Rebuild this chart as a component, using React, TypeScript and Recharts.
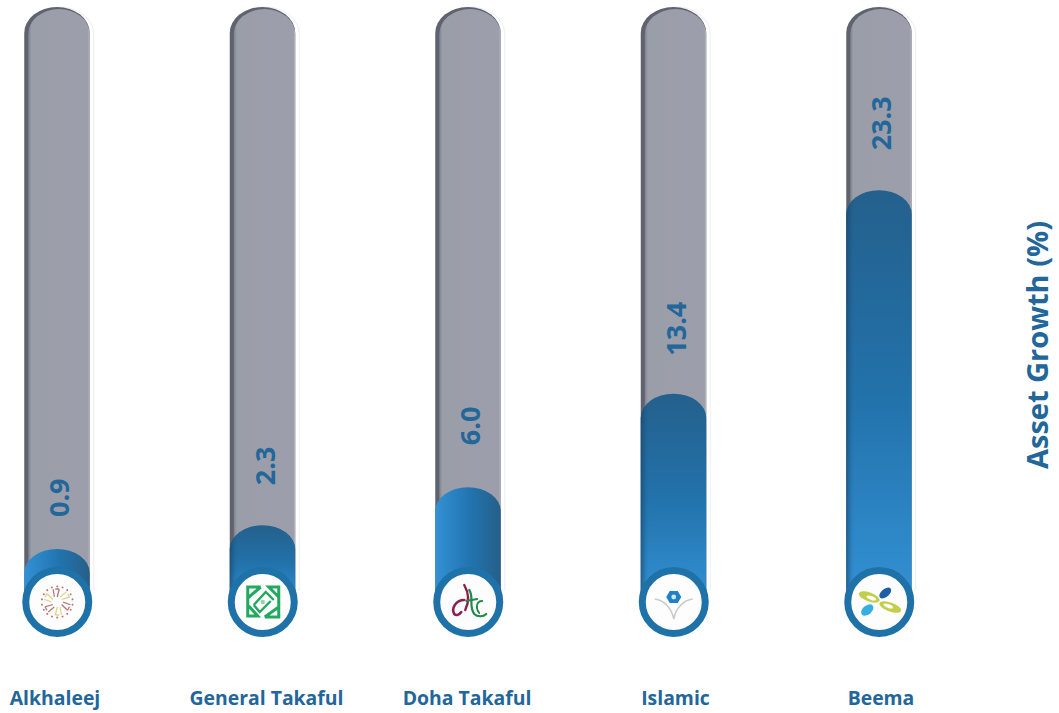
import React from 'react';
import { ComposedChart, Bar, XAxis, YAxis, LabelList } from 'recharts';

const COMPANIES = ['Alkhaleej', 'General Takaful', 'Doha Takaful', 'Islamic', 'Beema'];
const ASSET_GROWTH = [0.9, 2.3, 6.0, 13.4, 23.3];
// The picture is not to scale with its labels, so the fill level is read off separately (% of track)
const FILL_LEVELS = [8.9, 12.9, 19.3, 35, 69.2];
const TRACK_LEVELS = [100, 100, 100, 100, 100];

const chartData = COMPANIES.map((name, i) => ({
  name,
  growth: ASSET_GROWTH[i],
  fill: FILL_LEVELS[i],
  track: TRACK_LEVELS[i],
}));

const BLUE = '#22669a';
const FONT = '"Open Sans", sans-serif';
const BAR_WIDTH = 66;
const FILL_STYLES = ['sideFill', 'downFill', 'sideFill', 'downFill', 'downFill'];
const NAME_NUDGE = [-2, 4, -1, 2, 2];
const LABEL_GAP = [32, 40, 42, 38, 40];

const domePath = (x: number, y: number, w: number, h: number, ry: number) =>
  `M${x} ${y + h}V${y + ry}A${w / 2} ${ry} 0 0 1 ${x + w} ${y + ry}V${y + h}Z`;

function TrackShape({ x, y, width, height }: any) {
  return (
    <g>
      <path d={domePath(x + 1, y, width + 2.5, height - 12, 27)} fill="#fff" stroke="#eceef3" strokeWidth={1} />
      <path d={domePath(x, y, width - 0.5, height, 26)} fill="#5f636f" />
      <path d={domePath(x + 4, y + 2, width - 4.5, height - 2, 25)} fill="url(#trackFill)" />
    </g>
  );
}

function Logo({ index }: { index: number }) {
  if (index === 0) {
    const spokes = [0, 60, 120, 180, 240, 300];
    const dots = Array.from({ length: 18 }, (_, i) => i * 20);
    return (
      <g>
        {dots.map((a) => (
          <circle key={a} r={1} cy={-15.5} fill="#b5777b" transform={`rotate(${a})`} />
        ))}
        {spokes.map((a, i) => (
          <g key={a} transform={`rotate(${a})`}>
            <path d="M0 -5L2 -13M2 -13L-2 -13" stroke={i % 2 ? '#e3d28f' : '#b5777b'} strokeWidth={1.3} fill="none" />
            <path d="M3 -5L9 -10" stroke={i % 2 ? '#b5777b' : '#e3d28f'} strokeWidth={1.2} fill="none" />
          </g>
        ))}
      </g>
    );
  }
  if (index === 1) {
    return (
      <g fill="none" stroke="#22a860" strokeWidth={3}>
        <path d="M-2 -15H-15V14H-5L-14 4M-15 -4L-2 -15" />
        <path d="M2 15H16V-15H6L16 -5M16 5L2 15" />
        <path d="M-9 3L3 -10L11 -2M8 -1L-3 10L-9 3" strokeWidth={2.4} />
        <circle r={2.2} fill="#8fd4ab" stroke="none" />
      </g>
    );
  }
  if (index === 2) {
    return (
      <g fill="none" strokeLinecap="round">
        <path d="M-4 -2C-13 -2 -17 7 -14 12C-12 14 -9 13 -7 10" stroke="#8e1f4e" strokeWidth={2.6} />
        <path d="M-4 -17C0 -10 2 -2 -3 8" stroke="#8e1f4e" strokeWidth={2.4} />
        <path d="M1 -12C6 -5 0 4 6 12C9 15 15 15 18 12" stroke="#1f8a4a" strokeWidth={2.2} />
        <path d="M-2 -1L9 -3M14 -1C8 -1 7 6 11 11" stroke="#1f8a4a" strokeWidth={1.8} />
      </g>
    );
  }
  if (index === 3) {
    return (
      <g>
        <path d="M-19 -3C-10 -2 -2 6 0 17C2 6 10 -2 19 -3" fill="none" stroke="#c9cacc" strokeWidth={1.6} />
        <path d="M-4 -11H4L7.5 -5L4 1H-4L-7.5 -5Z" fill="#1f80c8" />
        <circle cy={-5} r={2.4} fill="#cfe6f5" />
      </g>
    );
  }
  return (
    <g>
      <ellipse cx={-10} cy={-5} rx={11} ry={4.5} fill="#c3cf4a" transform="rotate(20 -10 -5)" />
      <ellipse cx={11} cy={5} rx={11.5} ry={4.5} fill="#c3cf4a" transform="rotate(20 11 5)" />
      <ellipse cx={6} cy={-9} rx={7} ry={4} fill="#1d5fa6" transform="rotate(-40 6 -9)" />
      <ellipse cx={-12} cy={8} rx={7} ry={4.5} fill="#35aee0" transform="rotate(-40 -12 8)" />
      <ellipse cx={-8} cy={-4} rx={5} ry={1.8} fill="#fff" transform="rotate(20 -8 -4)" />
      <ellipse cx={9} cy={4} rx={5} ry={1.8} fill="#fff" transform="rotate(20 9 4)" />
    </g>
  );
}

function FillShape({ x, y, width, height, index }: any) {
  const style = FILL_STYLES[index];
  const cx = x + width / 2;
  const bottom = y + height;
  return (
    <g>
      <path d={domePath(x, y, width - 0.5, height, 24)} fill={`url(#${style})`} />
      {style === 'downFill' && <path d={domePath(x, y, width - 0.5, height, 24)} fill="url(#leftEdge)" />}
      <circle cx={cx} cy={bottom} r={31.5} fill="#fdfdfd" stroke="#1f72a8" strokeWidth={7} />
      <g transform={`translate(${cx} ${bottom})`}>
        <Logo index={index} />
      </g>
    </g>
  );
}

function GrowthLabel({ x, y, width, value, index }: any) {
  const cx = x + width / 2 + 12;
  const cy = y - LABEL_GAP[index];
  return (
    <text
      x={cx}
      y={cy}
      transform={`rotate(-90 ${cx} ${cy})`}
      fontFamily={FONT}
      fontWeight={700}
      fontSize={27}
      fill={BLUE}
    >
      {Number(value).toFixed(1)}
    </text>
  );
}

function NameTick({ x, y, index, payload }: any) {
  return (
    <text
      x={x + NAME_NUDGE[index]}
      y={y + 95}
      textAnchor="middle"
      fontFamily={FONT}
      fontWeight={700}
      fontSize={19.4}
      fill={BLUE}
    >
      {payload.value}
    </text>
  );
}

function AxisTitle() {
  return (
    <text
      x={1048}
      y={345}
      transform="rotate(-90 1048 345)"
      textAnchor="middle"
      fontFamily={FONT}
      fontWeight={700}
      fontSize={29}
      fill={BLUE}
    >
      Asset Growth (%)
    </text>
  );
}

export default function App() {
  return (
    <div style={{ position: 'absolute', left: 0, top: 0, width: 1059, height: 713, background: '#fff' }}>
      <ComposedChart
        width={1059}
        height={713}
        data={chartData}
        margin={{ top: 7, right: 0, bottom: 0, left: 57 }}
        barSize={BAR_WIDTH}
        barGap={-BAR_WIDTH}
      >
        <defs>
          <linearGradient id="trackFill" x1="0" y1="0" x2="1" y2="0">
            <stop offset="0" stopColor="#7d818c" />
            <stop offset="0.05" stopColor="#9a9ea9" />
            <stop offset="0.97" stopColor="#9c9fab" />
            <stop offset="1" stopColor="#b9bbc4" />
          </linearGradient>
          <linearGradient id="sideFill" x1="0" y1="0" x2="1" y2="0">
            <stop offset="0" stopColor="#3391d4" />
            <stop offset="0.55" stopColor="#2173ae" />
            <stop offset="1" stopColor="#265f88" />
          </linearGradient>
          <linearGradient id="downFill" x1="0" y1="0" x2="0" y2="1">
            <stop offset="0" stopColor="#24608c" />
            <stop offset="0.5" stopColor="#2272ab" />
            <stop offset="1" stopColor="#3391d4" />
          </linearGradient>
          <linearGradient id="leftEdge" x1="0" y1="0" x2="1" y2="0">
            <stop offset="0" stopColor="#123f63" stopOpacity={0.55} />
            <stop offset="0.08" stopColor="#123f63" stopOpacity={0.1} />
            <stop offset="0.12" stopColor="#123f63" stopOpacity={0} />
          </linearGradient>
        </defs>
        <XAxis
          dataKey="name"
          scale="point"
          padding={{ left: 0, right: 0 }}
          height={111}
          axisLine={false}
          tickLine={false}
          interval={0}
          tick={<NameTick />}
        />
        <YAxis
          orientation="right"
          domain={[0, 100]}
          width={180}
          axisLine={false}
          tickLine={false}
          tick={false}
          label={{ content: <AxisTitle /> }}
        />
        <Bar dataKey="track" isAnimationActive={false} shape={<TrackShape />} />
        <Bar dataKey="fill" isAnimationActive={false} shape={<FillShape />}>
          <LabelList dataKey="growth" content={<GrowthLabel />} />
        </Bar>
      </ComposedChart>
    </div>
  );
}
